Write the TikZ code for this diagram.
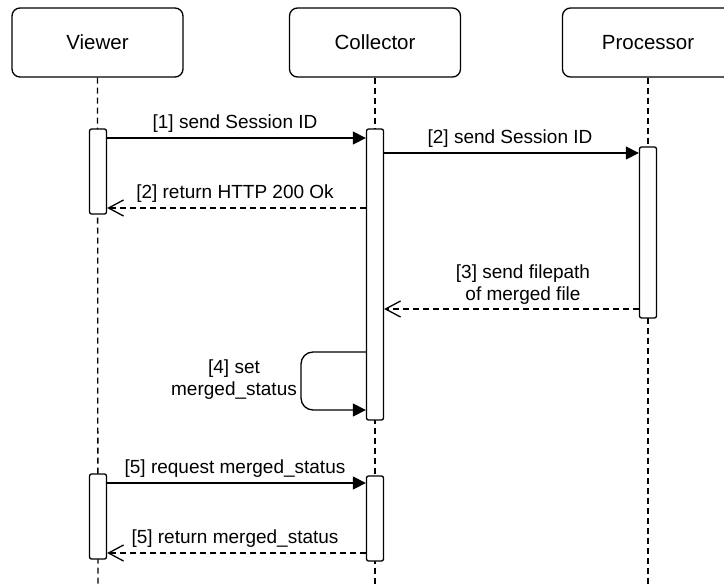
\documentclass[tikz,border=0pt]{standalone}
\usepackage{fontspec}
\setmainfont{Liberation Sans}
\usetikzlibrary{arrows.meta}
\begin{document}
\begin{tikzpicture}[x=1pt,y=-1pt,
  lw/.style={line width=1.3pt},
  actor/.style={draw, lw, rounded corners=8pt, minimum width=171pt, minimum height=69pt,
    inner sep=0pt, text height=14.5pt, text depth=0pt, font=\fontsize{20.5}{24}\selectfont},
  activation/.style={draw, lw, fill=white, rounded corners=2pt, minimum width=17pt, inner sep=0pt},
  lifeline/.style={lw, dash pattern=on 6pt off 4pt},
  call/.style={lw, -{Triangle[length=13pt,width=13pt]}},
  reply/.style={lw, dash pattern=on 6pt off 4pt, -{Straight Barb[length=15pt,width=16pt]}},
  lbl/.style={font=\fontsize{19}{22}\selectfont, inner sep=0pt, anchor=base, align=center},
]
\useasboundingbox (0,0) rectangle (724,584);

% participants
\node[actor] (viewer)    at (97.5,42.5) {Viewer};
\node[actor] (collector) at (375,42.5)  {Collector};
\node[actor] (processor) at (648,42.5)  {Processor};

% lifeline ends at the bottom edge
\coordinate (vEnd) at (98,584);
\coordinate (cEnd) at (375,584);
\coordinate (pEnd) at (648,584);
\draw[lifeline] (viewer.south) -- (vEnd);
\draw[lifeline] (collector.south) -- (cEnd);
\draw[lifeline] (processor.south) -- (pEnd);

% activation bars
\node[activation, minimum height=85pt]  (v1) at (98,171.5)  {};
\node[activation, minimum height=291pt] (c1) at (375,274.5) {};
\node[activation, minimum height=171pt] (p1) at (648,232.5) {};
\node[activation, minimum height=85pt]  (v2) at (98,516.5)  {};
\node[activation, minimum height=85pt]  (c2) at (375,518.5) {};

% messages
\draw[call]  (v1.east |- 0,138) -- (c1.west |- 0,138);
\draw[call]  (c1.east |- 0,153) -- (p1.west |- 0,153);
\draw[reply] (c1.west |- 0,208) -- (v1.east |- 0,208);
\draw[reply] (p1.west |- 0,309) -- (c1.east |- 0,309);
\draw[call, rounded corners=12pt] (c1.west |- 0,352) -- (301,352) -- (301,410) -- (c1.west |- 0,410);
\draw[call]  (v2.east |- 0,483) -- (c2.west |- 0,483);
\draw[reply] (c2.west |- 0,553) -- (v2.east |- 0,553);

% message labels (base anchor sits on the last line)
\node[lbl] (m1)  at (235,128) {[1] send Session ID};
\node[lbl] (m2)  at (510,143) {[2] send Session ID};
\node[lbl] (m2r) at (235,198) {[2] return HTTP 200 Ok};
\node[lbl] (m3)  at (523,300) {[3] send filepath\\of merged file};
\node[lbl] (m4)  at (234,395) {[4] set\\merged\_status};
\node[lbl] (m5)  at (235,473) {[5] request merged\_status};
\node[lbl] (m5r) at (235,543) {[5] return merged\_status};
\end{tikzpicture}
\end{document}
